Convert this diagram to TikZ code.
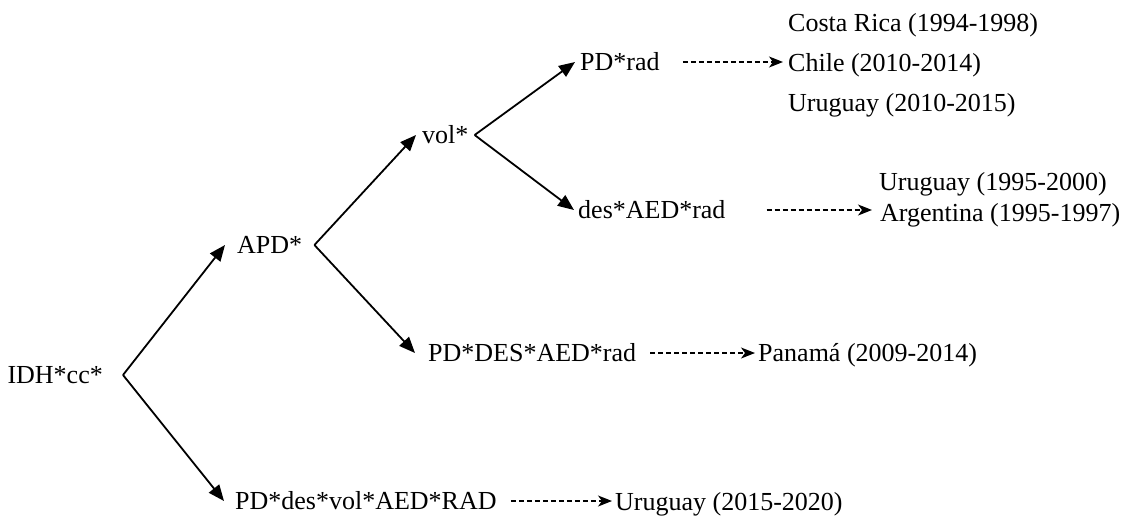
\documentclass[tikz,border=0pt]{standalone}
\usepackage{fontspec}
\setmainfont{Liberation Serif}
\usetikzlibrary{arrows.meta}
\begin{document}
\begin{tikzpicture}[x=1pt,y=-1pt,
  lbl/.style={anchor=west,inner ysep=0pt,inner xsep=0pt,text height=22pt,text depth=5pt,
    font=\fontsize{26}{30}\selectfont},
  branch/.style={line width=1.8pt,-{Triangle[length=16pt,width=13pt]}},
  result/.style={line width=1.3pt,dash pattern=on 5pt off 3pt,
    -{Stealth[length=14pt,width=11pt,inset=4pt]}}]
\useasboundingbox (0,0) rectangle (1130,520);

% factor nodes
\node[lbl,anchor=east,inner xsep=20pt] (idh) at (123,375) {IDH*cc*};
\node[lbl,inner xsep=12pt] (apd) at (225,245) {APD*};
\node[lbl,inner xsep=6pt] (vol) at (416,135) {vol*};
\node[lbl,inner xsep=5pt] (pdrad) at (575,62) {PD*rad};
\node[lbl,inner xsep=4pt] (des) at (574,210) {des*AED*rad};
\node[lbl,inner xsep=13pt] (pddes) at (415,353) {PD*DES*AED*rad};
\node[lbl,inner xsep=11pt] (bot) at (224,501) {PD*des*vol*AED*RAD};

% country / period nodes
\node[lbl] (cr) at (788,23) {Costa Rica (1994-1998)};
\node[lbl] (cl) at (788,63) {Chile (2010-2014)};
\node[lbl] (uy1) at (788,103) {Uruguay (2010-2015)};
\node[lbl] (uy2) at (879,182) {Uruguay (1995-2000)};
\node[lbl] (ar) at (880,213) {Argentina (1995-1997)};
\node[lbl] (pa) at (758,353) {Panamá (2009-2014)};
\node[lbl] (uy3) at (615,502) {Uruguay (2015-2020)};

% tree branches
\draw[branch] (idh.east) -- (apd.west);
\draw[branch] (idh.east) -- (bot.west);
\draw[branch] (apd.east) -- (vol.west);
\draw[branch] (apd.east) -- (pddes.west);
\draw[branch] (vol.east) -- (pdrad.west);
\draw[branch] (vol.east) -- (des.west);

% dashed result arrows
\draw[result,shorten <=18pt,shorten >=5pt] (pdrad.east) -- (pdrad.east -| cl.west);
\draw[result,shorten <=37pt,shorten >=8pt] (des.east) -- (des.east -| ar.west);
\draw[result,shorten <=1pt,shorten >=3pt] (pddes.east) -- (pddes.east -| pa.west);
\draw[result,shorten <=3pt,shorten >=3pt] (bot.east) -- (bot.east -| uy3.west);
\end{tikzpicture}
\end{document}
